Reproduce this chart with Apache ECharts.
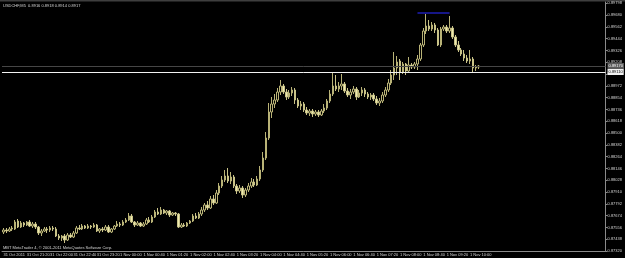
<!DOCTYPE html>
<html>
<head>
<meta charset="utf-8">
<script src="https://cdn.jsdelivr.net/npm/echarts@6/dist/echarts.min.js"></script>
<style>
html, body { margin: 0; padding: 0; background: #000; }
#chart { width: 625px; height: 258px; }
</style>
</head>
<body>
<div id="chart"></div>
<script>
// USDCHF M5, 31 Oct 20:40 -> 1 Nov 10:15
var symbolTitle = 'USDCHF,M5  0.8916 0.8918 0.8914 0.8917';
var copyright = 'MBT MetaTrader 4, \u00a9 2001-2011 MetaQuotes Software Corp.';

var tickLabels = ['31 Oct 2011', '31 Oct 21:20', '31 Oct 22:00', '31 Oct 22:40', '31 Oct 23:20',
    '1 Nov 00:00', '1 Nov 00:40', '1 Nov 01:20', '1 Nov 02:00', '1 Nov 02:40', '1 Nov 03:20',
    '1 Nov 04:00', '1 Nov 04:40', '1 Nov 05:20', '1 Nov 06:00', '1 Nov 06:40', '1 Nov 07:20',
    '1 Nov 08:00', '1 Nov 08:40', '1 Nov 09:20', '1 Nov 10:00'];
var barsPerTick = 8;
var slotCount = 207; // bars + empty shift space on the right

var opens = [
    0.8751, 0.8753, 0.8752, 0.8754, 0.8754, 0.8762, 0.8756, 0.8760, 0.8758, 0.8761,
    0.8757, 0.8759, 0.8756, 0.8750, 0.8752, 0.8754, 0.8753, 0.8755, 0.8754, 0.8747,
    0.8745, 0.8747, 0.8743, 0.8748, 0.8746, 0.8750, 0.8755, 0.8754, 0.8757, 0.8755,
    0.8757, 0.8756, 0.8758, 0.8752, 0.8754, 0.8753, 0.8756, 0.8751, 0.8754, 0.8757,
    0.8759, 0.8758, 0.8761, 0.8763, 0.8767, 0.8761, 0.8758, 0.8760, 0.8757, 0.8759,
    0.8763, 0.8761, 0.8766, 0.8771, 0.8769, 0.8773, 0.8770, 0.8772, 0.8768, 0.8770,
    0.8769, 0.8756, 0.8758, 0.8757, 0.8760, 0.8762, 0.8767, 0.8765, 0.8769, 0.8773,
    0.8778, 0.8775, 0.8784, 0.8780, 0.8790, 0.8797, 0.8803, 0.8807, 0.8802, 0.8806,
    0.8797, 0.8792, 0.8795, 0.8788, 0.8793, 0.8797, 0.8801, 0.8798, 0.8804, 0.8813,
    0.8825, 0.8845, 0.8871, 0.8879, 0.8883, 0.8891, 0.8897, 0.8891, 0.8886, 0.8890,
    0.8893, 0.8883, 0.8877, 0.8879, 0.8873, 0.8870, 0.8872, 0.8869, 0.8871, 0.8868,
    0.8872, 0.8875, 0.8882, 0.8889, 0.8897, 0.8894, 0.8897, 0.8899, 0.8892, 0.8888,
    0.8891, 0.8894, 0.8886, 0.8890, 0.8893, 0.8889, 0.8886, 0.8888, 0.8884, 0.8880,
    0.8882, 0.8888, 0.8893, 0.8900, 0.8908, 0.8915, 0.8922, 0.8911, 0.8919, 0.8912,
    0.8918, 0.8916, 0.8919, 0.8924, 0.8938, 0.8952, 0.8957, 0.8954, 0.8958, 0.8953,
    0.8938, 0.8954, 0.8956, 0.8952, 0.8955, 0.8946, 0.8938, 0.8933, 0.8929, 0.8925,
    0.8922, 0.8924, 0.8915, 0.8916
];
var closes = [
    0.8753, 0.8752, 0.8754, 0.8755, 0.8761, 0.8756, 0.8760, 0.8758, 0.8761, 0.8757,
    0.8759, 0.8756, 0.8750, 0.8752, 0.8754, 0.8753, 0.8755, 0.8754, 0.8747, 0.8745,
    0.8747, 0.8743, 0.8748, 0.8746, 0.8750, 0.8755, 0.8754, 0.8757, 0.8755, 0.8757,
    0.8756, 0.8758, 0.8752, 0.8754, 0.8753, 0.8756, 0.8751, 0.8754, 0.8757, 0.8759,
    0.8758, 0.8761, 0.8763, 0.8767, 0.8761, 0.8758, 0.8760, 0.8757, 0.8759, 0.8763,
    0.8761, 0.8766, 0.8771, 0.8769, 0.8773, 0.8770, 0.8772, 0.8768, 0.8770, 0.8769,
    0.8756, 0.8758, 0.8757, 0.8760, 0.8762, 0.8767, 0.8765, 0.8769, 0.8773, 0.8778,
    0.8775, 0.8784, 0.8780, 0.8790, 0.8797, 0.8803, 0.8807, 0.8802, 0.8806, 0.8797,
    0.8792, 0.8795, 0.8788, 0.8793, 0.8797, 0.8801, 0.8798, 0.8804, 0.8813, 0.8825,
    0.8845, 0.8871, 0.8879, 0.8883, 0.8891, 0.8897, 0.8891, 0.8886, 0.8890, 0.8893,
    0.8883, 0.8877, 0.8879, 0.8873, 0.8870, 0.8872, 0.8869, 0.8871, 0.8868, 0.8872,
    0.8875, 0.8882, 0.8889, 0.8897, 0.8894, 0.8897, 0.8899, 0.8892, 0.8888, 0.8891,
    0.8894, 0.8886, 0.8890, 0.8893, 0.8889, 0.8886, 0.8888, 0.8884, 0.8880, 0.8882,
    0.8888, 0.8893, 0.8900, 0.8908, 0.8915, 0.8921, 0.8911, 0.8919, 0.8912, 0.8918,
    0.8916, 0.8919, 0.8924, 0.8938, 0.8952, 0.8957, 0.8954, 0.8958, 0.8953, 0.8938,
    0.8954, 0.8956, 0.8952, 0.8955, 0.8946, 0.8938, 0.8933, 0.8929, 0.8925, 0.8922,
    0.8924, 0.8915, 0.8916, 0.8917
];
var lows = [
    0.8749, 0.8750, 0.8751, 0.8752, 0.8753, 0.8755, 0.8755, 0.8756, 0.8757, 0.8756,
    0.8755, 0.8754, 0.8748, 0.8747, 0.8751, 0.8750, 0.8751, 0.8752, 0.8746, 0.8743,
    0.8742, 0.8740, 0.8742, 0.8745, 0.8745, 0.8749, 0.8753, 0.8753, 0.8754, 0.8754,
    0.8754, 0.8755, 0.8751, 0.8750, 0.8751, 0.8752, 0.8750, 0.8750, 0.8753, 0.8756,
    0.8756, 0.8757, 0.8760, 0.8762, 0.8760, 0.8756, 0.8757, 0.8756, 0.8756, 0.8758,
    0.8760, 0.8760, 0.8765, 0.8768, 0.8768, 0.8769, 0.8768, 0.8766, 0.8767, 0.8767,
    0.8755, 0.8755, 0.8756, 0.8756, 0.8759, 0.8761, 0.8764, 0.8764, 0.8767, 0.8771,
    0.8773, 0.8774, 0.8778, 0.8779, 0.8788, 0.8795, 0.8801, 0.8800, 0.8799, 0.8795,
    0.8789, 0.8790, 0.8785, 0.8786, 0.8791, 0.8795, 0.8796, 0.8797, 0.8802, 0.8811,
    0.8823, 0.8843, 0.8865, 0.8875, 0.8881, 0.8888, 0.8889, 0.8883, 0.8884, 0.8887,
    0.8879, 0.8875, 0.8873, 0.8871, 0.8868, 0.8867, 0.8866, 0.8867, 0.8866, 0.8867,
    0.8870, 0.8873, 0.8880, 0.8887, 0.8892, 0.8891, 0.8893, 0.8890, 0.8886, 0.8884,
    0.8889, 0.8883, 0.8885, 0.8887, 0.8886, 0.8884, 0.8883, 0.8882, 0.8878, 0.8877,
    0.8880, 0.8886, 0.8891, 0.8898, 0.8903, 0.8908, 0.8903, 0.8909, 0.8908, 0.8911,
    0.8914, 0.8914, 0.8913, 0.8922, 0.8936, 0.8949, 0.8952, 0.8952, 0.8950, 0.8937,
    0.8936, 0.8952, 0.8950, 0.8950, 0.8944, 0.8936, 0.8931, 0.8927, 0.8922, 0.8920,
    0.8919, 0.8911, 0.8912, 0.8914
];
var highs = [
    0.8755, 0.8755, 0.8756, 0.8757, 0.8763, 0.8764, 0.8762, 0.8761, 0.8762, 0.8763,
    0.8761, 0.8761, 0.8757, 0.8754, 0.8756, 0.8756, 0.8757, 0.8757, 0.8756, 0.8749,
    0.8748, 0.8749, 0.8750, 0.8750, 0.8752, 0.8757, 0.8758, 0.8759, 0.8758, 0.8759,
    0.8758, 0.8760, 0.8759, 0.8755, 0.8756, 0.8758, 0.8758, 0.8755, 0.8758, 0.8762,
    0.8761, 0.8763, 0.8765, 0.8770, 0.8769, 0.8762, 0.8762, 0.8761, 0.8761, 0.8765,
    0.8766, 0.8768, 0.8773, 0.8775, 0.8776, 0.8774, 0.8773, 0.8773, 0.8771, 0.8771,
    0.8770, 0.8760, 0.8760, 0.8761, 0.8763, 0.8769, 0.8770, 0.8771, 0.8776, 0.8780,
    0.8782, 0.8787, 0.8788, 0.8793, 0.8800, 0.8807, 0.8813, 0.8815, 0.8811, 0.8808,
    0.8799, 0.8798, 0.8797, 0.8795, 0.8800, 0.8805, 0.8804, 0.8807, 0.8817, 0.8831,
    0.8851, 0.8880, 0.8886, 0.8889, 0.8895, 0.8903, 0.8899, 0.8894, 0.8893, 0.8896,
    0.8895, 0.8885, 0.8882, 0.8881, 0.8876, 0.8874, 0.8874, 0.8873, 0.8873, 0.8874,
    0.8879, 0.8884, 0.8893, 0.8910, 0.8908, 0.8901, 0.8909, 0.8901, 0.8895, 0.8894,
    0.8897, 0.8896, 0.8893, 0.8896, 0.8895, 0.8891, 0.8890, 0.8890, 0.8887, 0.8885,
    0.8891, 0.8896, 0.8904, 0.8913, 0.8931, 0.8927, 0.8924, 0.8921, 0.8920, 0.8926,
    0.8920, 0.8921, 0.8928, 0.8940, 0.8955, 0.8969, 0.8963, 0.8961, 0.8960, 0.8955,
    0.8956, 0.8958, 0.8958, 0.8967, 0.8957, 0.8948, 0.8942, 0.8935, 0.8933, 0.8928,
    0.8933, 0.8926, 0.8918, 0.8918
];

// horizontal levels
var bidPrice = 0.8917;
var levelPrice = 0.8911;
var topLine = { fromBar: 142, toBar: 153, price: 0.8970 };

// price scale
var priceMin = 0.87320;
var priceMax = 0.89810;
var priceStep = 0.00118;

var chart = echarts.init(document.getElementById('chart'));

var categories = [];
for (var i = 0; i < slotCount; i++) {
    categories.push(String(i));
}
var candles = [];
for (var j = 0; j < opens.length; j++) {
    candles.push([opens[j], closes[j], lows[j], highs[j]]);
}

function isTick(idx) {
    return idx % barsPerTick === 0 && idx / barsPerTick < tickLabels.length;
}

var textColor = '#d4d4d4';
var axisColor = '#8a8a8a';
var font = 'Liberation Sans';

var option = {
    backgroundColor: '#000000',
    animation: false,
    grid: { left: 2, right: 14, top: 2, bottom: 7 },
    xAxis: {
        type: 'category',
        data: categories,
        boundaryGap: true,
        axisLine: { lineStyle: { color: axisColor, width: 1 } },
        axisTick: {
            alignWithLabel: true,
            interval: function(idx) { return isTick(idx); },
            length: 2,
            lineStyle: { color: axisColor }
        },
        axisLabel: {
            interval: function(idx) { return isTick(idx); },
            formatter: function(v, idx) { return tickLabels[idx / barsPerTick]; },
            color: textColor,
            fontSize: 4,
            fontFamily: font,
            align: 'left',
            margin: 2
        },
        splitLine: { show: false }
    },
    yAxis: {
        type: 'value',
        position: 'right',
        scale: true,
        min: priceMin,
        max: priceMax,
        interval: priceStep,
        axisLine: { show: true, lineStyle: { color: axisColor, width: 1 } },
        axisTick: { show: true, length: 2, lineStyle: { color: axisColor } },
        axisLabel: {
            formatter: function(v) { return v.toFixed(5); },
            color: textColor,
            fontSize: 4,
            fontFamily: font,
            margin: 2,
            showMaxLabel: false
        },
        splitLine: { show: false }
    },
    series: [{
        type: 'candlestick',
        data: candles,
        barWidth: 2,
        itemStyle: {
            color: '#000000',
            borderColor: '#b9b377',
            color0: '#efeab0',
            borderColor0: '#c9c388',
            borderWidth: 1
        },
        markLine: {
            symbol: 'none',
            silent: true,
            animation: false,
            precision: 5,
            data: [
                {
                    yAxis: bidPrice,
                    lineStyle: { color: '#464646', width: 1, type: 'solid' },
                    label: {
                        show: true, position: 'end', distance: 2, formatter: bidPrice.toFixed(5),
                        fontSize: 4, fontFamily: font, color: '#ffffff',
                        backgroundColor: '#5a5a5a', padding: [1, 1]
                    }
                },
                {
                    yAxis: levelPrice,
                    lineStyle: { color: '#f2f2f2', width: 1, type: 'solid' },
                    label: {
                        show: true, position: 'end', distance: 2, formatter: levelPrice.toFixed(5),
                        fontSize: 4, fontFamily: font, color: '#000000',
                        backgroundColor: '#f2f2f2', padding: [1, 1]
                    }
                },
                [
                    { coord: [topLine.fromBar, topLine.price] },
                    { coord: [topLine.toBar, topLine.price] }
                ]
            ],
            lineStyle: { color: '#1e1eb4', width: 1.5, type: 'solid' },
            label: { show: false }
        }
    }],
    graphic: [
        { type: 'rect', left: 0, top: 0, shape: { width: 625, height: 1.5 }, style: { fill: '#3e3e3e' }, silent: true },
        { type: 'text', left: 3, top: 4, style: { text: symbolTitle, fill: textColor, font: '4px ' + font } },
        { type: 'text', left: 3, top: 246, style: { text: copyright, fill: textColor, font: '4px ' + font } }
    ]
};
chart.setOption(option);
</script>
</body>
</html>
